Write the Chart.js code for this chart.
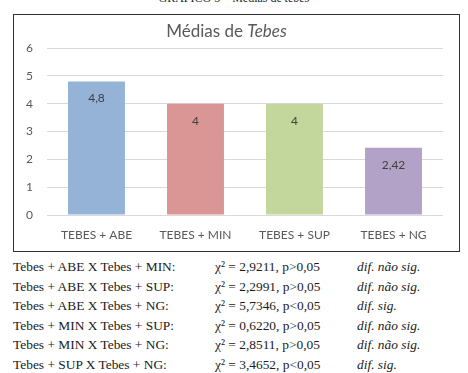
<!DOCTYPE html>
<html>
<head>
<meta charset="utf-8">
<script src="https://cdn.jsdelivr.net/npm/chart.js@4/dist/chart.umd.min.js"></script>
<style>
  body { margin: 0; width: 468px; height: 373px; background: #fff; position: relative; overflow: hidden; }
  .caixa { position: absolute; left: 13px; top: 14px; width: 445px; height: 236px; border: 1.5px solid #333; }
  #grafica { position: absolute; left: 0; top: 0; }
  .titulo { position: absolute; left: -10px; top: 5px; width: 445px; text-align: center;
            font: 17px Lato, sans-serif; color: #595959; }
  .cabecalho { position: absolute; left: 0; top: -8px; width: 468px; text-align: center;
               font: 12px "Liberation Serif", serif; color: #222; line-height: 12px; }
  .linha { position: absolute; left: 13px; font: 13.4px "Liberation Serif", serif; color: #1a1a1a; white-space: nowrap; }
  .linha span { position: absolute; top: 0; }
</style>
</head>
<body>
<div class="cabecalho">GRÁFICO 5 – Médias de <i>tebes</i></div>
<div class="caixa">
  <canvas id="grafica" width="445" height="236"></canvas>
  <div class="titulo">Médias de <i>Tebes</i></div>
</div>
<div id="comparacoes"></div>
<script>
const CATEGORIAS = ["TEBES + ABE", "TEBES + MIN", "TEBES + SUP", "TEBES + NG"];
const MEDIAS = [4.8, 4, 4, 2.42];
const CORES = ["#95B3D7", "#D99694", "#C3D69B", "#B3A2C7"];
const Y_TICKS = [0, 1, 2, 3, 4, 5, 6];

const PARES = [
  "Tebes + ABE X Tebes + MIN:",
  "Tebes + ABE X Tebes + SUP:",
  "Tebes + ABE X Tebes + NG:",
  "Tebes + MIN X Tebes + SUP:",
  "Tebes + MIN X Tebes + NG:",
  "Tebes + SUP X Tebes + NG:"
];
const QUI = ["2,9211", "2,2991", "5,7346", "0,6220", "2,8511", "3,4652"];
const PVAL = ["p>0,05", "p>0,05", "p<0,05", "p>0,05", "p>0,05", "p<0,05"];
const RESULTADO = ["dif. não sig.", "dif. não sig.", "dif. sig.", "dif. não sig.", "dif. não sig.", "dif. sig."];

// lista de comparações abaixo do gráfico
const cont = document.getElementById("comparacoes");
PARES.forEach((p, i) => {
  const d = document.createElement("div");
  d.className = "linha";
  d.style.top = (259 + i * 19.6) + "px";
  d.innerHTML = `${p}<span style="left:202px">χ² = ${QUI[i]}, ${PVAL[i]}</span>` +
                `<span style="left:344px"><i>${RESULTADO[i]}</i></span>`;
  cont.appendChild(d);
});

const rotulos = {
  id: "rotulos",
  afterDatasetsDraw(chart) {
    const ctx = chart.ctx;
    const meta = chart.getDatasetMeta(0);
    ctx.save();
    ctx.font = "12px Lato, sans-serif";
    ctx.fillStyle = "#404040";
    ctx.textAlign = "center";
    ctx.textBaseline = "middle";
    meta.data.forEach((bar, i) => {
      const txt = String(MEDIAS[i]).replace(".", ",");
      ctx.fillText(txt, bar.x, bar.y + 17);
    });
    ctx.restore();
  }
};

new Chart(document.getElementById("grafica"), {
  type: "bar",
  data: {
    labels: CATEGORIAS,
    datasets: [{
      data: MEDIAS,
      backgroundColor: CORES,
      borderWidth: 0,
      categoryPercentage: 1,
      barPercentage: 0.575
    }]
  },
  options: {
    responsive: false,
    animation: false,
    layout: { padding: { top: 33, right: 16, left: 0, bottom: 0 } },
    plugins: { legend: { display: false }, tooltip: { enabled: false } },
    scales: {
      x: {
        grid: { display: false },
        border: { display: false },
        ticks: { color: "#595959", font: { family: "Lato", size: 12 }, padding: 5, maxRotation: 0 },
        afterFit: s => { s.height = 36; }
      },
      y: {
        min: 0, max: 6,
        afterBuildTicks: s => { s.ticks = Y_TICKS.map(v => ({ value: v })); },
        grid: { color: "#d9d9d9", drawTicks: false },
        border: { display: false },
        ticks: { color: "#595959", font: { family: "Lato", size: 12 }, padding: 14 },
        afterFit: s => { s.width = 33; }
      }
    }
  },
  plugins: [rotulos]
});
</script>
</body>
</html>
